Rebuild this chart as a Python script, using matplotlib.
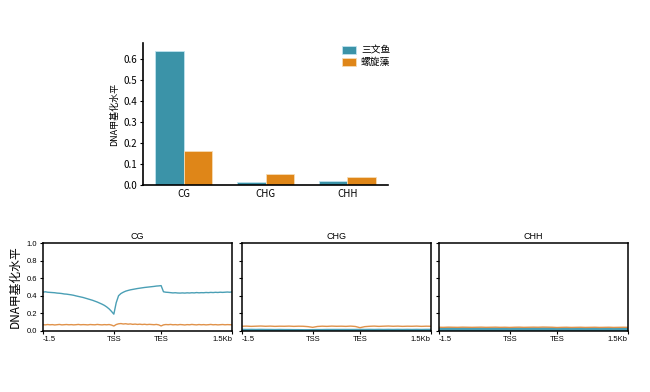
import numpy as np
import matplotlib
matplotlib.use('Agg')
import matplotlib.pyplot as plt

plt.rcParams['font.family'] = ['Noto Sans CJK SC', 'DejaVu Sans']

# ==================== 数据 ====================
contexts = ['CG', 'CHG', 'CHH']
species = ['三文鱼', '螺旋藻']
level_salmon = [0.638, 0.015, 0.018]
level_spirulina = [0.163, 0.052, 0.038]

bar_colors = ['#3b93a8', '#df8618']
line_colors = ['#4a9fb5', '#e0924a']

# 基因区域 profile: 0 = -1.5kb, 150 = TSS, 250 = TES, 400 = +1.5kb
pos_fine = list(range(0, 401, 5))
pos_coarse = list(range(0, 401, 10))
region_ticks = [0, 150, 250, 400]
region_labels = ['-1.5', 'TSS', 'TES', '1.5Kb']

cg_salmon = [0.440, 0.445, 0.440, 0.438, 0.436, 0.434, 0.430, 0.428, 0.425, 0.420,
             0.418, 0.414, 0.410, 0.405, 0.398, 0.392, 0.386, 0.380, 0.372, 0.364,
             0.356, 0.348, 0.338, 0.328, 0.316, 0.304, 0.290, 0.272, 0.250, 0.222,
             0.190, 0.320, 0.400, 0.425, 0.440, 0.452, 0.460, 0.467, 0.472, 0.477,
             0.482, 0.486, 0.490, 0.494, 0.497, 0.500, 0.503, 0.506, 0.510, 0.512,
             0.515, 0.445, 0.440, 0.438, 0.435, 0.432, 0.434, 0.431, 0.430, 0.432,
             0.430, 0.433, 0.431, 0.434, 0.432, 0.436, 0.433, 0.435, 0.434, 0.437,
             0.435, 0.438, 0.436, 0.439, 0.437, 0.440, 0.438, 0.440, 0.442, 0.440,
             0.443]
cg_spirulina = [0.070, 0.068, 0.072, 0.069, 0.071, 0.067, 0.070, 0.073, 0.068, 0.070,
                0.072, 0.069, 0.071, 0.068, 0.070, 0.073, 0.069, 0.071, 0.070, 0.068,
                0.072, 0.070, 0.069, 0.073, 0.070, 0.068, 0.071, 0.069, 0.072, 0.066,
                0.055, 0.072, 0.080, 0.083, 0.078, 0.081, 0.076, 0.079, 0.074, 0.077,
                0.073, 0.076, 0.072, 0.075, 0.071, 0.074, 0.072, 0.070, 0.073, 0.068,
                0.056, 0.068, 0.072, 0.070, 0.073, 0.069, 0.071, 0.068, 0.072, 0.070,
                0.067, 0.071, 0.069, 0.073, 0.070, 0.068, 0.072, 0.069, 0.071, 0.068,
                0.070, 0.073, 0.069, 0.071, 0.068, 0.070, 0.072, 0.069, 0.071, 0.070,
                0.069]
chg_salmon = [0.012, 0.011, 0.012, 0.011, 0.012, 0.011, 0.011, 0.010, 0.011, 0.010,
              0.010, 0.009, 0.009, 0.008, 0.008, 0.009, 0.010, 0.010, 0.011, 0.011,
              0.011, 0.011, 0.011, 0.011, 0.011, 0.012, 0.011, 0.012, 0.011, 0.012,
              0.011, 0.012, 0.011, 0.012, 0.011, 0.012, 0.011, 0.012, 0.011, 0.012,
              0.012]
chg_spirulina = [0.052, 0.054, 0.051, 0.053, 0.055, 0.052, 0.054, 0.051, 0.053, 0.052,
                 0.054, 0.051, 0.053, 0.052, 0.048, 0.040, 0.050, 0.053, 0.051, 0.054,
                 0.052, 0.053, 0.051, 0.054, 0.050, 0.036, 0.048, 0.052, 0.054, 0.051,
                 0.053, 0.055, 0.052, 0.054, 0.051, 0.053, 0.052, 0.054, 0.051, 0.053,
                 0.052]
chh_salmon = [0.016, 0.015, 0.014, 0.014, 0.013, 0.013, 0.012, 0.012, 0.012, 0.011,
              0.011, 0.011, 0.011, 0.011, 0.012, 0.012, 0.012, 0.012, 0.012, 0.012,
              0.012, 0.012, 0.012, 0.012, 0.013, 0.013, 0.013, 0.013, 0.013, 0.013,
              0.014, 0.014, 0.014, 0.014, 0.014, 0.014, 0.014, 0.015, 0.015, 0.015,
              0.015]
chh_spirulina = [0.041, 0.040, 0.042, 0.041, 0.040, 0.042, 0.041, 0.040, 0.041, 0.042,
                 0.040, 0.041, 0.042, 0.040, 0.041, 0.039, 0.041, 0.042, 0.040, 0.041,
                 0.042, 0.041, 0.043, 0.042, 0.041, 0.038, 0.040, 0.041, 0.039, 0.040,
                 0.041, 0.039, 0.040, 0.041, 0.039, 0.040, 0.041, 0.039, 0.040, 0.041,
                 0.040]

profiles = [
    ('CG', pos_fine, cg_salmon, cg_spirulina, 1.0),
    ('CHG', pos_coarse, chg_salmon, chg_spirulina, 1.6),
    ('CHH', pos_coarse, chh_salmon, chh_spirulina, 3.5),
]

# ==================== 画图 ====================
fig = plt.figure(figsize=(6.5, 3.92), dpi=100)

# 上: 柱状图
ax = fig.add_axes([0.220, 0.528, 0.377, 0.362])
x = np.arange(len(contexts))
w = 0.35
ax.bar(x - w / 2, level_salmon, w, color=bar_colors[0], edgecolor='#bfe3ef',
       linewidth=0.6, label=species[0])
ax.bar(x + w / 2, level_spirulina, w, color=bar_colors[1], edgecolor='#f6dcb4',
       linewidth=0.6, label=species[1])
ax.set_xticks(x)
ax.set_xticklabels(contexts, fontsize=7)
ax.set_xlim(-0.5, 2.5)
ax.set_ylim(0, 0.675)
ax.set_yticks([0.0, 0.1, 0.2, 0.3, 0.4, 0.5, 0.6])
ax.tick_params(axis='y', labelsize=7, length=2, width=0.8, pad=2)
ax.tick_params(axis='x', length=0, pad=3)
ax.set_ylabel('DNA甲基化水平', fontsize=6.5, labelpad=3)
for s in ['top', 'right']:
    ax.spines[s].set_visible(False)
ax.spines['left'].set_linewidth(1.2)
ax.spines['bottom'].set_linewidth(1.2)
ax.legend(loc='upper right', bbox_to_anchor=(1.045, 1.045), frameon=False,
          fontsize=7, handlelength=1.5, handleheight=0.8, handletextpad=0.5,
          labelspacing=0.18)

# 下: 基因区域 profile
lefts = [0.066, 0.372, 0.675]
for i, (title, pos, s1, s2, lw1) in enumerate(profiles):
    a = fig.add_axes([lefts[i], 0.156, 0.291, 0.224])
    a.plot(pos, s1, color=line_colors[0], lw=lw1)
    a.plot(pos, s2, color=line_colors[1], lw=1.0)
    a.set_xlim(0, 400)
    a.set_ylim(0, 1.0)
    a.set_yticks([0.0, 0.2, 0.4, 0.6, 0.8, 1.0])
    a.set_xticks(region_ticks)
    labs = a.set_xticklabels(region_labels, fontsize=5.5, family=['Liberation Sans', 'DejaVu Sans'])
    labs[0].set_ha('left')
    labs[-1].set_ha('right')
    a.tick_params(length=2, width=0.8, pad=2, labelsize=5.5)
    a.set_title(title, fontsize=6.5, pad=3, family=['Liberation Sans', 'DejaVu Sans'])
    for s in a.spines.values():
        s.set_linewidth(1.1)
    if i == 0:
        a.set_yticklabels(['0.0', '0.2', '0.4', '0.6', '0.8', '1.0'],
                          family=['Liberation Sans', 'DejaVu Sans'])
        a.set_ylabel('DNA甲基化水平', fontsize=8.5, labelpad=4)
    else:
        a.set_yticklabels([])

plt.savefig('out.png', dpi=100)
